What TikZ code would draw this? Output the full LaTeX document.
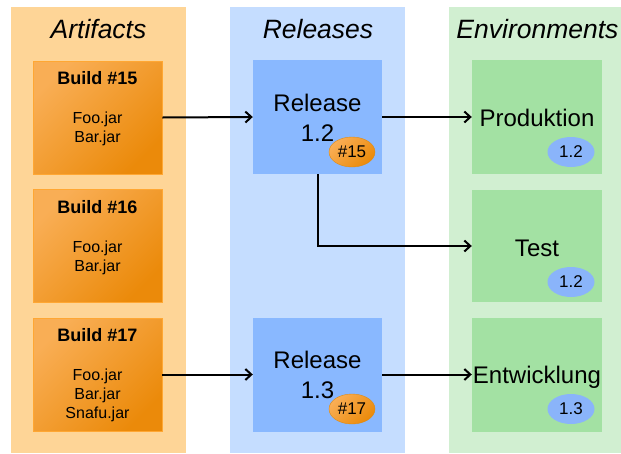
\documentclass[tikz,border=0pt]{standalone}
\usepackage{fontspec}
\setmainfont{Liberation Sans}
\usetikzlibrary{arrows.meta,shapes.geometric}
\definecolor{artbg}{HTML}{FED597}
\definecolor{buildlight}{HTML}{F9AE55}
\definecolor{builddark}{HTML}{EB8A0A}
\definecolor{buildline}{HTML}{FFA733}
\definecolor{relbg}{HTML}{C5DDFF}
\definecolor{relbox}{HTML}{89B8FF}
\definecolor{envbg}{HTML}{D1EFD1}
\definecolor{envbox}{HTML}{A3E1A3}
\definecolor{badgeblue}{HTML}{8AB4FA}
\definecolor{badgeline}{HTML}{E08A10}
\tikzset{
  column/.style={draw=none, inner sep=0pt, minimum width=175pt, minimum height=446pt, anchor=north west},
  buildbox/.style={rectangle, draw=buildline, line width=0.8pt, top color=buildlight, bottom color=builddark, shading angle=45, inner sep=0pt, minimum width=129pt, minimum height=113pt},
  relbox/.style={rectangle, fill=relbox, inner sep=0pt, minimum width=129pt, minimum height=114pt},
  envbox/.style={rectangle, fill=envbox, inner sep=0pt, minimum width=130pt, minimum height=114pt},
  obadge/.style={ellipse, draw=badgeline, line width=0.4pt, top color=buildlight, bottom color=builddark, shading angle=45, inner sep=0pt, minimum width=46pt, minimum height=30pt, font=\fontsize{17}{20}\selectfont},
  bbadge/.style={ellipse, fill=badgeblue, inner sep=0pt, minimum width=47pt, minimum height=30pt, font=\fontsize{17}{20}\selectfont},
  ttl/.style={anchor=base, inner sep=0pt, font=\fontsize{26.5}{30}\selectfont\itshape},
  bhead/.style={anchor=base, inner sep=0pt, font=\fontsize{18}{22}\selectfont\bfseries},
  jar/.style={anchor=base, inner sep=0pt, font=\fontsize{16}{19}\selectfont},
  big/.style={anchor=base, inner sep=0pt, font=\fontsize{24}{28}\selectfont},
  conn/.style={line width=2pt, -{Straight Barb[length=6pt,width=11pt]}},
}
\begin{document}
\begin{tikzpicture}[x=1pt,y=-1pt]
\useasboundingbox (0,0) rectangle (621,453);
% columns
\node[column, fill=artbg] (colart) at (11,7) {};
\node[column, fill=relbg] (colrel) at (230,7) {};
\node[column, fill=envbg, minimum width=172pt] (colenv) at (449,7) {};
\node[ttl] (tart) at (98.5,38) {Artifacts};
\node[ttl] (trel) at (318,38) {Releases};
\node[ttl] (tenv) at (537.5,38) {Environments};
% builds
\node[buildbox] (b15) at (97.5,117.5) {};
\node[buildbox] (b16) at (97.5,246) {};
\node[buildbox] (b17) at (97.5,374.5) {};
% releases
\node[relbox] (r12) at (317.5,117) {};
\node[relbox] (r13) at (317.5,374.5) {};
% environments
\node[envbox] (prod) at (537,117) {};
\node[envbox, minimum height=112pt] (test) at (537,246) {};
\node[envbox] (entw) at (537,374.5) {};
% connectors
\draw[conn] (b15.east) -- (r12.west);
\draw[conn] (r12.east) -- (prod.west);
\draw[conn] (r12.south) |- (test.west);
\draw[conn] (b17.east) -- (r13.west);
\draw[conn] (r13.east) -- (entw.west);
% build texts
\node[bhead] (h15) at (97.5,84) {Build \#15};
\node[jar] (f15) at (97.5,123) {Foo.jar};
\node[jar] (a15) at (97.5,142) {Bar.jar};
\node[bhead] (h16) at (97.5,213) {Build \#16};
\node[jar] (f16) at (97.5,252) {Foo.jar};
\node[jar] (a16) at (97.5,271) {Bar.jar};
\node[bhead] (h17) at (97.5,341) {Build \#17};
\node[jar] (f17) at (97.5,380) {Foo.jar};
\node[jar] (a17) at (97.5,399) {Bar.jar};
\node[jar] (s17) at (97.5,418) {Snafu.jar};
% release texts
\node[big] (rl12) at (317.5,111) {Release};
\node[big] (rv12) at (317.5,141) {1.2};
\node[big] (rl13) at (317.5,368) {Release};
\node[big] (rv13) at (317.5,398) {1.3};
\node[obadge] (k15) at (352,152) {\#15};
\node[obadge] (k17) at (352,409) {\#17};
% environment texts
\node[big] (tp) at (537,126) {Produktion};
\node[big] (tt) at (537,256) {Test};
\node[big] (te) at (537,383) {Entwicklung};
\node[bbadge] (v1) at (571,152) {1.2};
\node[bbadge] (v2) at (571,282) {1.2};
\node[bbadge] (v3) at (571,409) {1.3};
\end{tikzpicture}
\end{document}
